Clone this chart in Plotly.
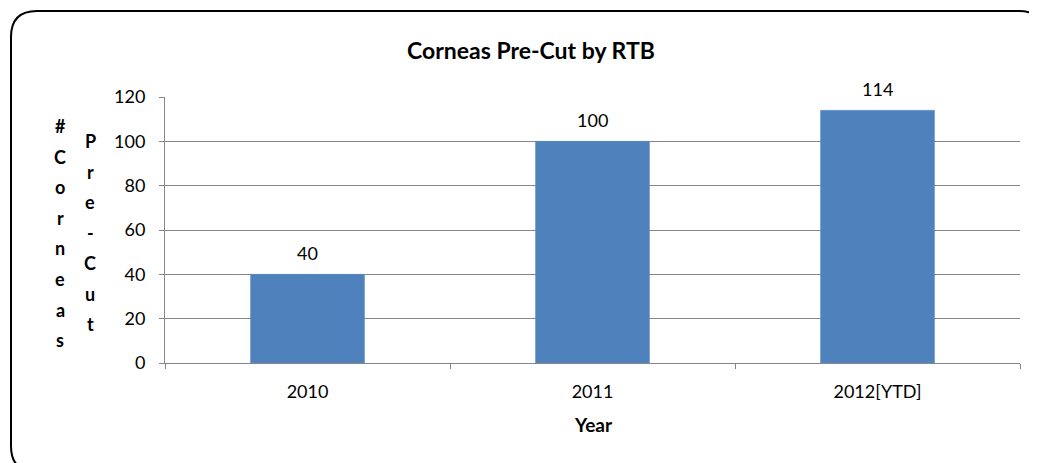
import plotly.graph_objects as go

categories = ["2010", "2011", "2012[YTD]"]
values = [40, 100, 114]
y_ticks = [0, 20, 40, 60, 80, 100, 120]
title_text = "Corneas Pre-Cut by RTB"
x_title = "Year"
y_title_col1 = "#Corneas"
y_title_col2 = "Pre-Cut"

OFF = 8  # page body margin
W, H = 1037 - OFF, 463 - OFF
L, R, T, B = 165 - OFF, 17, 97 - OFF, 100
pw, ph = W - L - R, H - T - B

def px(x):
    return (x - OFF - L) / pw

def py(y):
    return (H - B - (y - OFF)) / ph

FONT = "Lato, Calibri, Carlito, sans-serif"

fig = go.Figure()
fig.add_trace(go.Bar(
    x=categories, y=values,
    marker=dict(color="#4F81BD", line=dict(color="#5B8FCB", width=0.5)),
    width=0.4,
    hoverinfo="x+y",
))

annotations = [
    dict(text="<b>" + title_text + "</b>", x=px(531), y=py(50), xref="paper", yref="paper",
         showarrow=False, font=dict(family=FONT, size=23, color="#000000"), xanchor="center", yanchor="middle"),
    dict(text="<b>" + x_title + "</b>", x=px(593), y=py(424), xref="paper", yref="paper",
         showarrow=False, font=dict(family=FONT, size=19, color="#000000"), xanchor="center", yanchor="middle"),
]
for i, v in enumerate(values):
    annotations.append(dict(text=str(v), x=i, y=v, xref="x", yref="y", showarrow=False,
                            yanchor="bottom", yshift=8,
                            font=dict(family=FONT, size=18, color="#000000")))
for i, ch in enumerate(y_title_col1):
    annotations.append(dict(text="<b>" + ch + "</b>", x=px(60), y=py(126 + i * 30.6), xref="paper", yref="paper",
                            showarrow=False, font=dict(family=FONT, size=18, color="#000000"),
                            xanchor="center", yanchor="middle"))
for i, ch in enumerate(y_title_col2):
    annotations.append(dict(text="<b>" + ch + "</b>", x=px(90), y=py(141 + i * 30.5), xref="paper", yref="paper",
                            showarrow=False, font=dict(family=FONT, size=18, color="#000000"),
                            xanchor="center", yanchor="middle"))

# rounded frame
x0, x1, y0, y1, r = 11, 1045, 11, 472, 26
path = (f"M {px(x0 + r)} {py(y0)} L {px(x1 - r)} {py(y0)} Q {px(x1)} {py(y0)} {px(x1)} {py(y0 + r)} "
        f"L {px(x1)} {py(y1 - r)} Q {px(x1)} {py(y1)} {px(x1 - r)} {py(y1)} "
        f"L {px(x0 + r)} {py(y1)} Q {px(x0)} {py(y1)} {px(x0)} {py(y1 - r)} "
        f"L {px(x0)} {py(y0 + r)} Q {px(x0)} {py(y0)} {px(x0 + r)} {py(y0)} Z")

fig.update_layout(
    width=W, height=H,
    margin=dict(l=L, r=R, t=T, b=B, pad=0),
    paper_bgcolor="white", plot_bgcolor="white",
    showlegend=False,
    annotations=annotations,
    shapes=[dict(type="path", path=path, xref="paper", yref="paper",
                 line=dict(color="#000000", width=2), fillcolor="rgba(0,0,0,0)", layer="below")],
    font=dict(family=FONT, size=18, color="#000000"),
)
fig.update_xaxes(
    type="category",
    showline=True, linecolor="#868686", linewidth=1,
    ticks="outside", ticklen=5, tickcolor="#868686", tickson="boundaries",
    showgrid=False, ticklabelstandoff=12,
    tickfont=dict(family=FONT, size=18, color="#000000"),
    range=[-0.5, 2.5],
)
fig.update_yaxes(
    range=[0, 120], tickvals=y_ticks, ticktext=[str(t) for t in y_ticks],
    showline=True, linecolor="#868686", linewidth=1,
    ticks="outside", ticklen=5, tickcolor="#868686",
    showgrid=True, gridcolor="#868686", gridwidth=1,
    zeroline=False, ticklabelstandoff=10,
    tickfont=dict(family=FONT, size=18, color="#000000"),
)
fig.write_html("out.html")
